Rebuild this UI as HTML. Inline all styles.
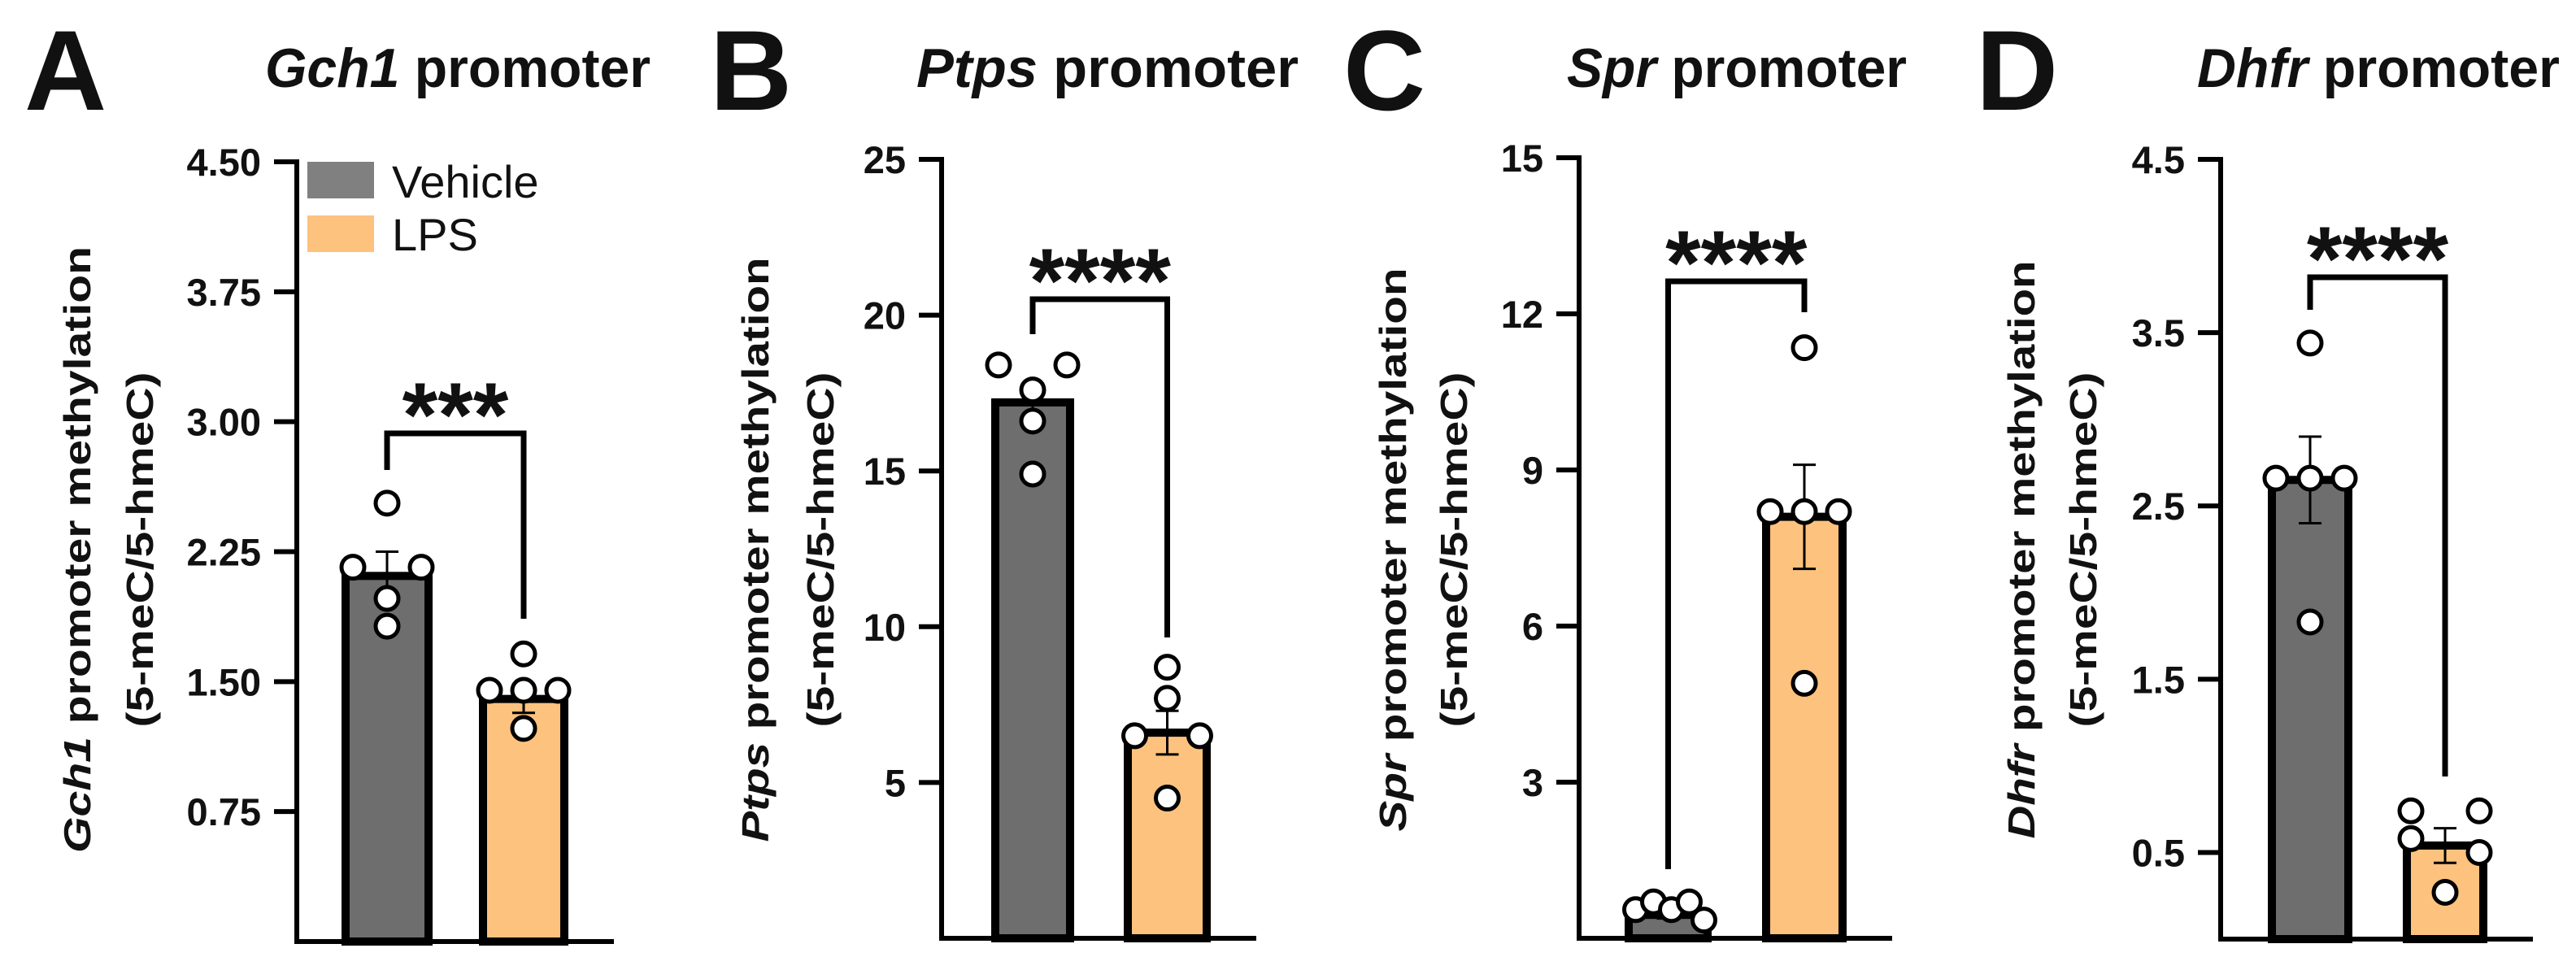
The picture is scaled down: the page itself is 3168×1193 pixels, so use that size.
<!DOCTYPE html>
<html><head><meta charset="utf-8"><style>
html,body{margin:0;padding:0;background:#fff;}
svg{display:block;font-family:"Liberation Sans",Arial,sans-serif;}
</style></head><body>
<svg id="fig" width="3168" height="1193" viewBox="0 0 3168 1193" xmlns="http://www.w3.org/2000/svg"></svg>
<script>
// ---- data ----
const groups = ["Vehicle", "LPS"];
const gch1Ticks = ["0.75","1.50","2.25","3.00","3.75","4.50"];
const gch1Means = [2.11, 1.40];
const gch1Sems = [0.14, 0.08];
const gch1Vehicle = [2.53, 2.16, 2.16, 1.98, 1.82];
const gch1Lps = [1.66, 1.45, 1.45, 1.45, 1.23];
const ptpsTicks = ["5","10","15","20","25"];
const ptpsMeans = [17.2, 6.6];
const ptpsSems = [0.6, 0.7];
const ptpsVehicle = [18.4, 18.4, 17.6, 16.6, 14.9];
const ptpsLps = [8.7, 7.7, 6.5, 6.5, 4.5];
const sprTicks = ["3","6","9","12","15"];
const sprMeans = [0.45, 8.1];
const sprSems = [0.07, 1.0];
const sprVehicle = [0.55, 0.7, 0.55, 0.7, 0.35];
const sprLps = [11.35, 8.2, 8.2, 8.2, 4.9];
const dhfrTicks = ["0.5","1.5","2.5","3.5","4.5"];
const dhfrMeans = [2.65, 0.54];
const dhfrSems = [0.25, 0.1];
const dhfrVehicle = [3.44, 2.66, 2.66, 2.66, 1.83];
const dhfrLps = [0.74, 0.74, 0.58, 0.5, 0.27];

const NS="http://www.w3.org/2000/svg";
const svg=document.getElementById('fig');
function mk(tag,attrs,parent){const e=document.createElementNS(NS,tag);for(const k in attrs)e.setAttribute(k,attrs[k]);(parent||svg).appendChild(e);return e;}

const panels=[
 {id:'a',letter:'A',lx:30,gene:'Gch1',tx:326,tw:474,ax:365,xEnd:755,max:4.5,top:199,bot:1158,ticks:gch1Ticks,means:gch1Means,sems:gch1Sems,veh:gch1Vehicle,lps:gch1Lps,
  bars:[[420,532],[589,699]],stars:'***',br:[533,578,761],vOff:[0,-42,42,0,0],lOff:[0,-42,0,42,0],lab:[96,173],len1:746,legend:true},
 {id:'b',letter:'B',lx:873,gene:'Ptps',tx:1127,tw:470,ax:1158,xEnd:1545,max:25,top:196,bot:1154,ticks:ptpsTicks,means:ptpsMeans,sems:ptpsSems,veh:ptpsVehicle,lps:ptpsLps,
  bars:[[1219,1321],[1382,1489]],stars:'****',br:[368,411,784],vOff:[-42,42,0,0,0],lOff:[0,0,-40,40,0],lab:[930,1010],len1:719},
 {id:'c',letter:'C',lx:1652,gene:'Spr',tx:1927,tw:418,ax:1942,xEnd:2327,max:15,top:194,bot:1154,ticks:sprTicks,means:sprMeans,sems:sprSems,veh:sprVehicle,lps:sprLps,
  bars:[[1998,2105],[2167,2271]],stars:'****',br:[346,1069,384],vOff:[-40,-18,4,26,44],lOff:[0,-42,0,42,0],lab:[1714,1789],len1:693},
 {id:'d',letter:'D',lx:2430,gene:'Dhfr',tx:2702,tw:446,ax:2731,xEnd:3115,max:4.5,top:196,bot:1155,ticks:dhfrTicks,means:dhfrMeans,sems:dhfrSems,veh:dhfrVehicle,lps:dhfrLps,
  bars:[[2789,2893],[2955,3059]],stars:'****',br:[341,381,955],vOff:[0,-42,0,42,0],lOff:[-42,42,-42,42,0],lab:[2487,2563],len1:711}
];
panels.forEach(p=>{
  const g=mk('g',{});
  
  
  const Y0=p.bot, YTOP=p.top;
  const y=v=>Y0-(v/p.max)*(Y0-YTOP);
  const letter=mk('text',{x:p.lx,y:135,'font-size':140,'font-weight':'bold',fill:'#111'},g);
  letter.textContent=p.letter;
  
  
  const title=mk('text',{x:p.tx,y:107,'font-size':68,'font-weight':'bold',fill:'#111',textLength:p.tw,lengthAdjust:'spacingAndGlyphs'},g);
  
  
  const ti=mk('tspan',{'font-style':'italic'},title);ti.textContent=p.gene;
  const tr=mk('tspan',{},title);tr.textContent=' promoter';
  // y-axis label
  const cy=676;
  const l1=mk('text',{x:p.lab[0],y:cy,'font-size':46,'font-weight':'bold','text-anchor':'middle',transform:`rotate(-90 ${p.lab[0]} ${cy})`,dy:15,fill:'#111',textLength:p.len1,lengthAdjust:'spacingAndGlyphs'},g);
  
  
  const li=mk('tspan',{'font-style':'italic'},l1);li.textContent=p.gene;
  const lr=mk('tspan',{},l1);lr.textContent=' promoter methylation';
  const l2=mk('text',{x:p.lab[1],y:cy,'font-size':46,'font-weight':'bold','text-anchor':'middle',transform:`rotate(-90 ${p.lab[1]} ${cy})`,dy:15,fill:'#111',textLength:437,lengthAdjust:'spacingAndGlyphs'},g);
  l2.textContent='(5-meC/5-hmeC)';
  
  
  // axes
  const ya=mk('line',{x1:p.ax,y1:YTOP-3,x2:p.ax,y2:Y0+3,stroke:'#000','stroke-width':6},g);
  
  
  const xa=mk('line',{x1:p.ax-3,y1:Y0,x2:p.xEnd,y2:Y0,stroke:'#000','stroke-width':6},g);
  
  
  p.ticks.forEach(t=>{
    const ty=y(parseFloat(t));
    const tk=mk('line',{x1:p.ax-28,y1:ty,x2:p.ax,y2:ty,stroke:'#000','stroke-width':6},g);
    
    
    const tl=mk('text',{x:p.ax-44,y:ty+17,'font-size':47,'font-weight':'bold','text-anchor':'end',fill:'#111'},g);
    tl.textContent=t;
    
    
  });
  const colors=['#6e6e6e','#fdc27e'];
  const pts=[p.veh,p.lps];
  const offs=[p.vOff,p.lOff];
  p.means.forEach((m,i)=>{
    const [x1,x2]=p.bars[i];
    const top=y(m);
    const bar=mk('rect',{x:x1+5,y:top,width:x2-x1-10,height:Y0-top,fill:colors[i],stroke:'#000','stroke-width':10},g);
    
    
    const cx=(x1+x2)/2;
    const eu=y(m+p.sems[i]), ed=y(m-p.sems[i]);
    const eb=mk('path',{d:`M${cx},${eu}V${ed}M${cx-14},${eu}H${cx+14}M${cx-14},${ed}H${cx+14}`,stroke:'#000','stroke-width':3,fill:'none'},g);
    
    
    pts[i].forEach((v,k)=>{
      const c=mk('circle',{cx:cx+offs[i][k],cy:y(v),r:14,fill:'#fff',stroke:'#000','stroke-width':5},g);
      
      
    });
  });
  const bx1=(p.bars[0][0]+p.bars[0][1])/2, bx2=(p.bars[1][0]+p.bars[1][1])/2;
  const br=mk('path',{d:`M${bx1},${p.br[1]}V${p.br[0]}H${bx2}V${p.br[2]}`,stroke:'#000','stroke-width':7,fill:'none'},g);
  
  
  const st=mk('text',{x:(bx1+bx2)/2,y:p.br[0]+16,'font-size':112,'font-weight':'bold','text-anchor':'middle',fill:'#111'},g);
  st.textContent=p.stars;
  
  
  if(p.legend){
    const sw1=mk('rect',{x:378,y:199,width:82,height:45,fill:'#808080'},g);
    
    
    const sw2=mk('rect',{x:378,y:265,width:82,height:45,fill:'#fdc27e'},g);
    
    
    const t1=mk('text',{x:482,y:243,'font-size':56,fill:'#111'},g);t1.textContent='Vehicle';
    
    
    const t2=mk('text',{x:482,y:308,'font-size':56,fill:'#111'},g);t2.textContent='LPS';
    
    
  }
});
</script>
</body></html>
